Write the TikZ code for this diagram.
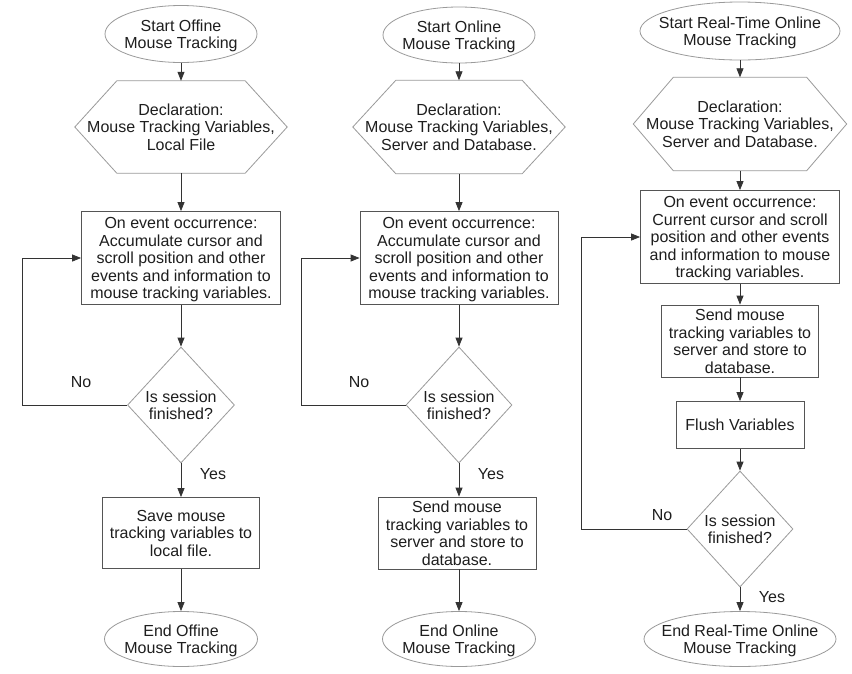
\documentclass[tikz,border=0pt]{standalone}
\usepackage{fontspec}
\setmainfont{Liberation Sans}
\usetikzlibrary{shapes.geometric,arrows.meta}
\definecolor{shapegray}{HTML}{9A9A9A}
\definecolor{boxgray}{HTML}{555555}
\definecolor{linegray}{HTML}{333333}
\definecolor{txt}{HTML}{1E1E1E}
\begin{document}
\begin{tikzpicture}[x=1pt,y=-1pt,
  every node/.style={text=txt,font=\fontsize{16}{17.5}\selectfont,align=center,inner sep=0pt,text depth=0pt},
  term/.style={ellipse,draw=shapegray,line width=0.8pt,inner xsep=-22pt,inner ysep=-4pt},
  hexbox/.style={rectangle},
  hexline/.style={draw=shapegray,line width=0.8pt},
  procbox/.style={rectangle,draw=boxgray,line width=0.8pt},
  decide/.style={diamond,draw=shapegray,line width=0.8pt,inner sep=-6pt},
  arr/.style={draw=linegray,line width=0.8pt,-{Triangle[length=9pt,width=7pt]}},
  lbl/.style={font=\fontsize{16}{17.5}\selectfont}]
\useasboundingbox (0,0) rectangle (852,673);
\fill[white] (0,0) rectangle (852,673);

% ---------- Column 1 ----------
\node[term,minimum width=152pt,minimum height=57pt] (s1) at (181,34) {Start Offine\\Mouse Tracking};
\node[hexbox,minimum width=212pt,minimum height=92pt] (d1) at (181,127) {Declaration:\\Mouse Tracking Variables,\\Local File};
\draw[hexline] ([xshift=42pt]d1.north west) -- ([xshift=-42pt]d1.north east) -- (d1.east) -- ([xshift=-42pt]d1.south east) -- ([xshift=42pt]d1.south west) -- (d1.west) -- cycle;
\node[procbox,minimum width=199pt,minimum height=93pt] (b1) at (181,258) {On event occurrence:\\Accumulate cursor and\\scroll position and other\\events and information to\\mouse tracking variables.};
\node[decide,minimum width=107pt,minimum height=116pt] (q1) at (181,405) {Is session\\finished?};
\node[procbox,minimum width=157pt,minimum height=71pt] (v1) at (181,533) {Save mouse\\tracking variables to\\local file.};
\node[term,minimum width=153pt,minimum height=55pt] (e1) at (181,639) {End Offine\\Mouse Tracking};
\draw[arr] (s1) -- (d1.north);
\draw[arr] (d1.south) -- (b1);
\draw[arr] (b1) -- (q1);
\draw[arr] (q1) -- (v1);
\draw[arr] (v1) -- (e1);
\draw[arr] (q1.west) -- ++(-105,0) |- (b1.west);
\node[lbl] (n1) at (81,382) {No};
\node[lbl] (y1) at (213,474) {Yes};

% ---------- Column 2 ----------
\node[term,minimum width=152pt,minimum height=56pt] (s2) at (459,35) {Start Online\\Mouse Tracking};
\node[hexbox,minimum width=212pt,minimum height=93pt] (d2) at (459,127) {Declaration:\\Mouse Tracking Variables,\\Server and Database.};
\draw[hexline] ([xshift=43pt]d2.north west) -- ([xshift=-43pt]d2.north east) -- (d2.east) -- ([xshift=-43pt]d2.south east) -- ([xshift=43pt]d2.south west) -- (d2.west) -- cycle;
\node[procbox,minimum width=198pt,minimum height=93pt] (b2) at (459,258) {On event occurrence:\\Accumulate cursor and\\scroll position and other\\events and information to\\mouse tracking variables.};
\node[decide,minimum width=106pt,minimum height=116pt] (q2) at (459,405) {Is session\\finished?};
\node[procbox,minimum width=158pt,minimum height=72pt] (v2) at (457,533) {Send mouse\\tracking variables to\\server and store to\\database.};
\node[term,minimum width=153pt,minimum height=55pt] (e2) at (459,639) {End Online\\Mouse Tracking};
\draw[arr] (s2) -- (d2.north);
\draw[arr] (d2.south) -- (b2);
\draw[arr] (b2) -- (q2);
\draw[arr] (q2.south) -- (q2.south |- v2.north);
\draw[arr] (v2.south -| e2.north) -- (e2);
\draw[arr] (q2.west) -- ++(-104,0) |- (b2.west);
\node[lbl] (n2) at (359,382) {No};
\node[lbl] (y2) at (491,474) {Yes};

% ---------- Column 3 ----------
\node[term,minimum width=200pt,minimum height=58pt] (s3) at (740,31) {Start Real-Time Online\\Mouse Tracking};
\node[hexbox,minimum width=213pt,minimum height=93pt] (d3) at (740,124) {Declaration:\\Mouse Tracking Variables,\\Server and Database.};
\draw[hexline] ([xshift=40pt]d3.north west) -- ([xshift=-40pt]d3.north east) -- (d3.east) -- ([xshift=-40pt]d3.south east) -- ([xshift=40pt]d3.south west) -- (d3.west) -- cycle;
\node[procbox,minimum width=199pt,minimum height=93pt] (b3) at (740,237) {On event occurrence:\\Current cursor and scroll\\position and other events\\and information to mouse\\tracking variables.};
\node[procbox,minimum width=157pt,minimum height=72pt] (m3) at (740,341) {Send mouse\\tracking variables to\\server and store to\\database.};
\node[procbox,minimum width=128pt,minimum height=47pt] (f3) at (740,425) {Flush Variables};
\node[decide,minimum width=106pt,minimum height=116pt] (q3) at (740,529) {Is session\\finished?};
\node[term,minimum width=192pt,minimum height=55pt] (e3) at (740,639) {End Real-Time Online\\Mouse Tracking};
\draw[arr] (s3) -- (d3.north);
\draw[arr] (d3.south) -- (b3);
\draw[arr] (b3) -- (m3);
\draw[arr] (m3) -- (f3);
\draw[arr] (f3) -- (q3);
\draw[arr] (q3) -- (e3);
\draw[arr] (q3.west) -- ++(-105,0) |- (b3.west);
\node[lbl] (n3) at (662,515) {No};
\node[lbl] (y3) at (772,597) {Yes};
\end{tikzpicture}
\end{document}
